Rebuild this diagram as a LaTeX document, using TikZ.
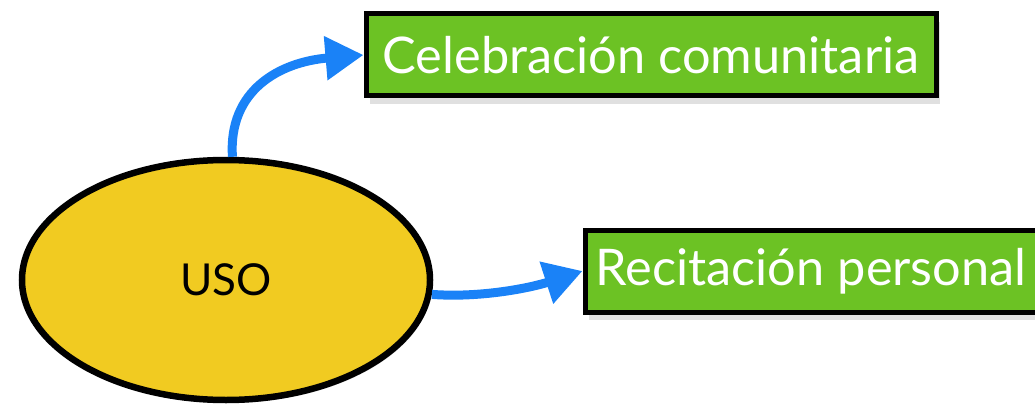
\documentclass[tikz,border=0pt]{standalone}
\usepackage{fontspec}
\setmainfont{Lato}
\usetikzlibrary{arrows.meta,shapes.geometric,shadows}
\definecolor{boxgreen}{HTML}{6CC224}
\definecolor{ovalyellow}{HTML}{F1CB21}
\definecolor{arrblue}{HTML}{1A82F7}
\tikzset{
  greenbox/.style={draw=black, line width=5pt, fill=boxgreen, text=white, inner sep=0pt,
    minimum height=82pt, font=\fontsize{50.5}{58}\selectfont,
    drop shadow={shadow xshift=4pt, shadow yshift=-8pt, fill=black, opacity=0.12}},
  oval/.style={ellipse, draw=black, line width=6.5pt, fill=ovalyellow, inner sep=0pt,
    minimum width=408pt, minimum height=240pt, font=\fontsize{44}{50}\selectfont,
    drop shadow={shadow xshift=2pt, shadow yshift=-3pt, fill=black, opacity=0.15}},
  arr/.style={draw=arrblue, line width=9pt, -{Triangle[length=38pt,width=42pt]}, arrblue}
}
\begin{document}
\begin{tikzpicture}[x=1pt,y=-1pt]
\useasboundingbox (0,0) rectangle (1035,409);
\node[oval] (uso) at (226,280) {USO};
\node[greenbox, minimum width=570pt] (celeb) at (651,55) {Celebración comunitaria};
\node[greenbox, minimum width=452pt] (recit) at (811,271) {Recitación personal};
\draw[arr] (uso.87) .. controls (228,90) and (280,62) .. (celeb.west);
\draw[arr] (uso.-4) .. controls (480,298) and (530,288) .. (recit.west);
\end{tikzpicture}
\end{document}
